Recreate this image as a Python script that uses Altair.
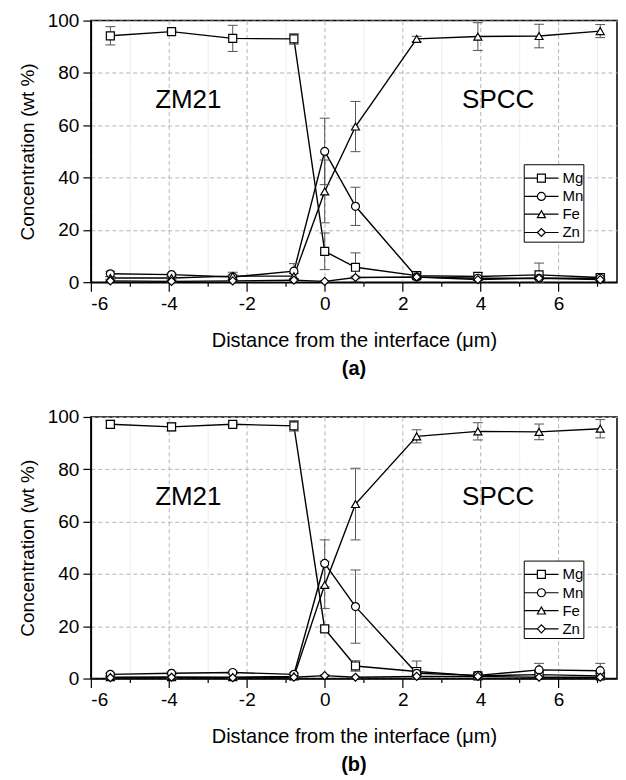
import altair as alt
import pandas as pd

FONT = "Liberation Sans"

elements = ["Mg", "Mn", "Fe", "Zn"]
distance = [-5.5, -3.93, -2.36, -0.79, 0.0, 0.79, 2.36, 3.93, 5.5, 7.07]

# panel (a) concentrations (wt %) and error half-widths
a_mg = [94.2, 95.8, 93.2, 93.0, 11.8, 5.7, 2.5, 2.2, 2.8, 1.8]
a_mn = [3.2, 2.9, 2.0, 4.2, 50.0, 29.0, 2.0, 1.5, 1.5, 1.5]
a_fe = [1.6, 1.6, 2.3, 2.3, 34.7, 59.5, 93.0, 93.9, 94.1, 96.0]
a_zn = [0.5, 0.3, 0.5, 0.8, 0.3, 1.8, 2.0, 1.0, 1.5, 1.0]
a_mg_err = [3.5, 0.5, 5.0, 2.0, 7.0, 5.5, 1.0, 1.5, 4.5, 1.0]
a_mn_err = [1.0, 0.5, 1.0, 2.9, 12.7, 7.3, 0.5, 0.5, 0.5, 0.5]
a_fe_err = [0.5, 0.5, 1.5, 1.0, 12.0, 9.6, 1.0, 5.3, 4.5, 2.5]
a_zn_err = [0.3, 0.3, 0.3, 0.3, 0.3, 0.5, 0.3, 0.3, 0.3, 0.3]

# panel (b)
b_mg = [97.2, 96.2, 97.2, 96.6, 19.0, 4.8, 2.7, 1.0, 1.5, 1.0]
b_mn = [1.6, 2.0, 2.3, 1.6, 44.0, 27.5, 2.0, 1.2, 3.3, 3.0]
b_fe = [0.5, 0.5, 0.5, 0.8, 35.8, 66.7, 92.6, 94.5, 94.3, 95.5]
b_zn = [0.3, 0.5, 0.3, 0.5, 1.1, 0.5, 0.8, 0.8, 0.5, 0.5]
b_mg_err = [1.5, 1.5, 0.8, 2.0, 1.0, 2.0, 4.0, 1.0, 1.0, 1.0]
b_mn_err = [0.5, 0.5, 0.5, 0.5, 9.0, 14.0, 0.5, 0.5, 2.5, 2.8]
b_fe_err = [0.3, 0.3, 0.3, 0.3, 9.0, 13.7, 2.5, 3.3, 3.0, 3.5]
b_zn_err = [0.3, 0.3, 0.3, 0.3, 0.3, 0.3, 0.3, 0.3, 0.3, 0.3]

# annotations
region_labels = ["ZM21", "SPCC"]
region_x = [-3.5, 4.45]
region_y = [69.5, 69.5]

# in-plot legend (data units)
legend_box_x = [5.12, 6.65]
legend_box_y = [15.3, 44.9]
legend_row_y = [39.8, 32.8, 26.0, 19.0]
legend_line_x = [5.12, 6.0]
legend_marker_x = 5.56
legend_text_x = 6.1

point_shapes = ["square", "circle", "triangle-up", "diamond"]


def long_frame(series, errs):
    rows = []
    for el, vals, ers in zip(elements, series, errs):
        for x, v, e in zip(distance, vals, ers):
            rows.append({"element": el, "x": x, "y": v, "lo": max(v - e, 0), "hi": v + e})
    return pd.DataFrame(rows)


def cond(test, a, b):
    return {"condition": {"test": test, "value": a}, "value": b}


X_MAJOR = "datum.value % 2 === 0"
Y_MAJOR = "datum.value % 20 === 0"

x_axis = alt.Axis(
    values=list(range(-6, 8)),
    labelExpr="datum.value % 2 === 0 ? '' + datum.value : ''",
    title="Distance from the interface (μm)",
    labelFont=FONT, labelFontSize=19, labelColor="black", labelPadding=3,
    titleFont=FONT, titleFontSize=20, titleFontWeight="normal", titleColor="black", titlePadding=17,
    tickSize=cond(X_MAJOR, 9, 4), tickColor="black", tickWidth=1.2,
    domainColor="black", domainWidth=1.5,
    grid=True,
    gridColor=cond(X_MAJOR, "#b4b4b4", "#ececec"),
    gridDash=cond(X_MAJOR, [4, 3], [1, 0]),
    gridWidth=1,
)

y_axis = alt.Axis(
    values=list(range(0, 101, 10)),
    labelExpr="datum.value % 20 === 0 ? '' + datum.value : ''",
    title="Concentration (wt %)",
    labelFont=FONT, labelFontSize=19, labelColor="black", labelPadding=4,
    titleFont=FONT, titleFontSize=19, titleFontWeight="normal", titleColor="black", titlePadding=10,
    tickSize=cond(Y_MAJOR, 8, 4), tickColor="black", tickWidth=1.2,
    domainColor="black", domainWidth=1.5,
    grid=True,
    gridColor=cond(Y_MAJOR, "#b4b4b4", "#ececec"),
    gridDash=cond(Y_MAJOR, [4, 3], [1, 0]),
    gridWidth=1,
)

x_scale = alt.Scale(domain=[-6, 7.5], nice=False, zero=False)
y_scale = alt.Scale(domain=[0, 100], nice=False, zero=False)
shape_scale = alt.Scale(domain=elements, range=point_shapes)


def panel(df, tag):
    base = alt.Chart(df)
    X = alt.X("x:Q", scale=x_scale, axis=x_axis)
    Y = alt.Y("y:Q", scale=y_scale, axis=y_axis)

    lines = base.mark_line(color="black", strokeWidth=1.4).encode(
        x=X, y=Y, detail="element:N", order="x:Q"
    )
    bars = base.mark_rule(color="#555555", strokeWidth=1).encode(
        x="x:Q", y="lo:Q", y2="hi:Q"
    )
    cap_hi = base.mark_rule(color="#555555", strokeWidth=1, xOffset=-5, x2Offset=5).encode(
        x="x:Q", x2="x:Q", y="hi:Q"
    )
    cap_lo = base.mark_rule(color="#555555", strokeWidth=1, xOffset=-5, x2Offset=5).encode(
        x="x:Q", x2="x:Q", y="lo:Q"
    )
    pts = base.mark_point(filled=False, fill="white", stroke="black", strokeWidth=1.2,
                          size=64, opacity=1).encode(
        x=X, y=Y,
        shape=alt.Shape("element:N", scale=shape_scale, legend=None),
    )

    text_df = pd.DataFrame({"label": region_labels, "x": region_x, "y": region_y})
    texts = alt.Chart(text_df).mark_text(font=FONT, fontSize=26, color="black").encode(
        x="x:Q", y="y:Q", text="label:N"
    )

    # legend drawn inside the plot
    box_df = pd.DataFrame({"x0": [legend_box_x[0]], "x1": [legend_box_x[1]],
                           "y0": [legend_box_y[0]], "y1": [legend_box_y[1]]})
    box = alt.Chart(box_df).mark_rect(fill="white", stroke="black", strokeWidth=1).encode(
        x="x0:Q", x2="x1:Q", y="y0:Q", y2="y1:Q"
    )
    leg_df = pd.DataFrame({
        "element": elements,
        "y": legend_row_y,
        "lx0": [legend_line_x[0]] * 4,
        "lx1": [legend_line_x[1]] * 4,
        "mx": [legend_marker_x] * 4,
        "tx": [legend_text_x] * 4,
    })
    leg_base = alt.Chart(leg_df)
    leg_lines = leg_base.mark_rule(color="black", strokeWidth=1.2).encode(
        x="lx0:Q", x2="lx1:Q", y="y:Q"
    )
    leg_pts = leg_base.mark_point(filled=False, fill="white", stroke="black", strokeWidth=1.2,
                                  size=64, opacity=1).encode(
        x="mx:Q", y="y:Q", shape=alt.Shape("element:N", scale=shape_scale, legend=None)
    )
    leg_txt = leg_base.mark_text(font=FONT, fontSize=15, color="black", align="left",
                                 baseline="middle").encode(
        x="tx:Q", y="y:Q", text="element:N"
    )

    return alt.layer(lines, bars, cap_hi, cap_lo, pts, texts,
                     box, leg_lines, leg_pts, leg_txt).properties(
        width=527, height=262,
        title=alt.TitleParams(tag, orient="bottom", font=FONT, fontSize=20,
                              fontWeight="bold", color="black", offset=9),
    )


df_a = long_frame([a_mg, a_mn, a_fe, a_zn], [a_mg_err, a_mn_err, a_fe_err, a_zn_err])
df_b = long_frame([b_mg, b_mn, b_fe, b_zn], [b_mg_err, b_mn_err, b_fe_err, b_zn_err])

chart = alt.vconcat(panel(df_a, "(a)"), panel(df_b, "(b)"), spacing=27).configure_view(
    stroke="black", strokeWidth=1.5
).properties(padding={"left": 9, "top": 2, "right": 0, "bottom": 5}, background="white")

chart.save("out.html", embed_options={"renderer": "svg", "actions": False})
